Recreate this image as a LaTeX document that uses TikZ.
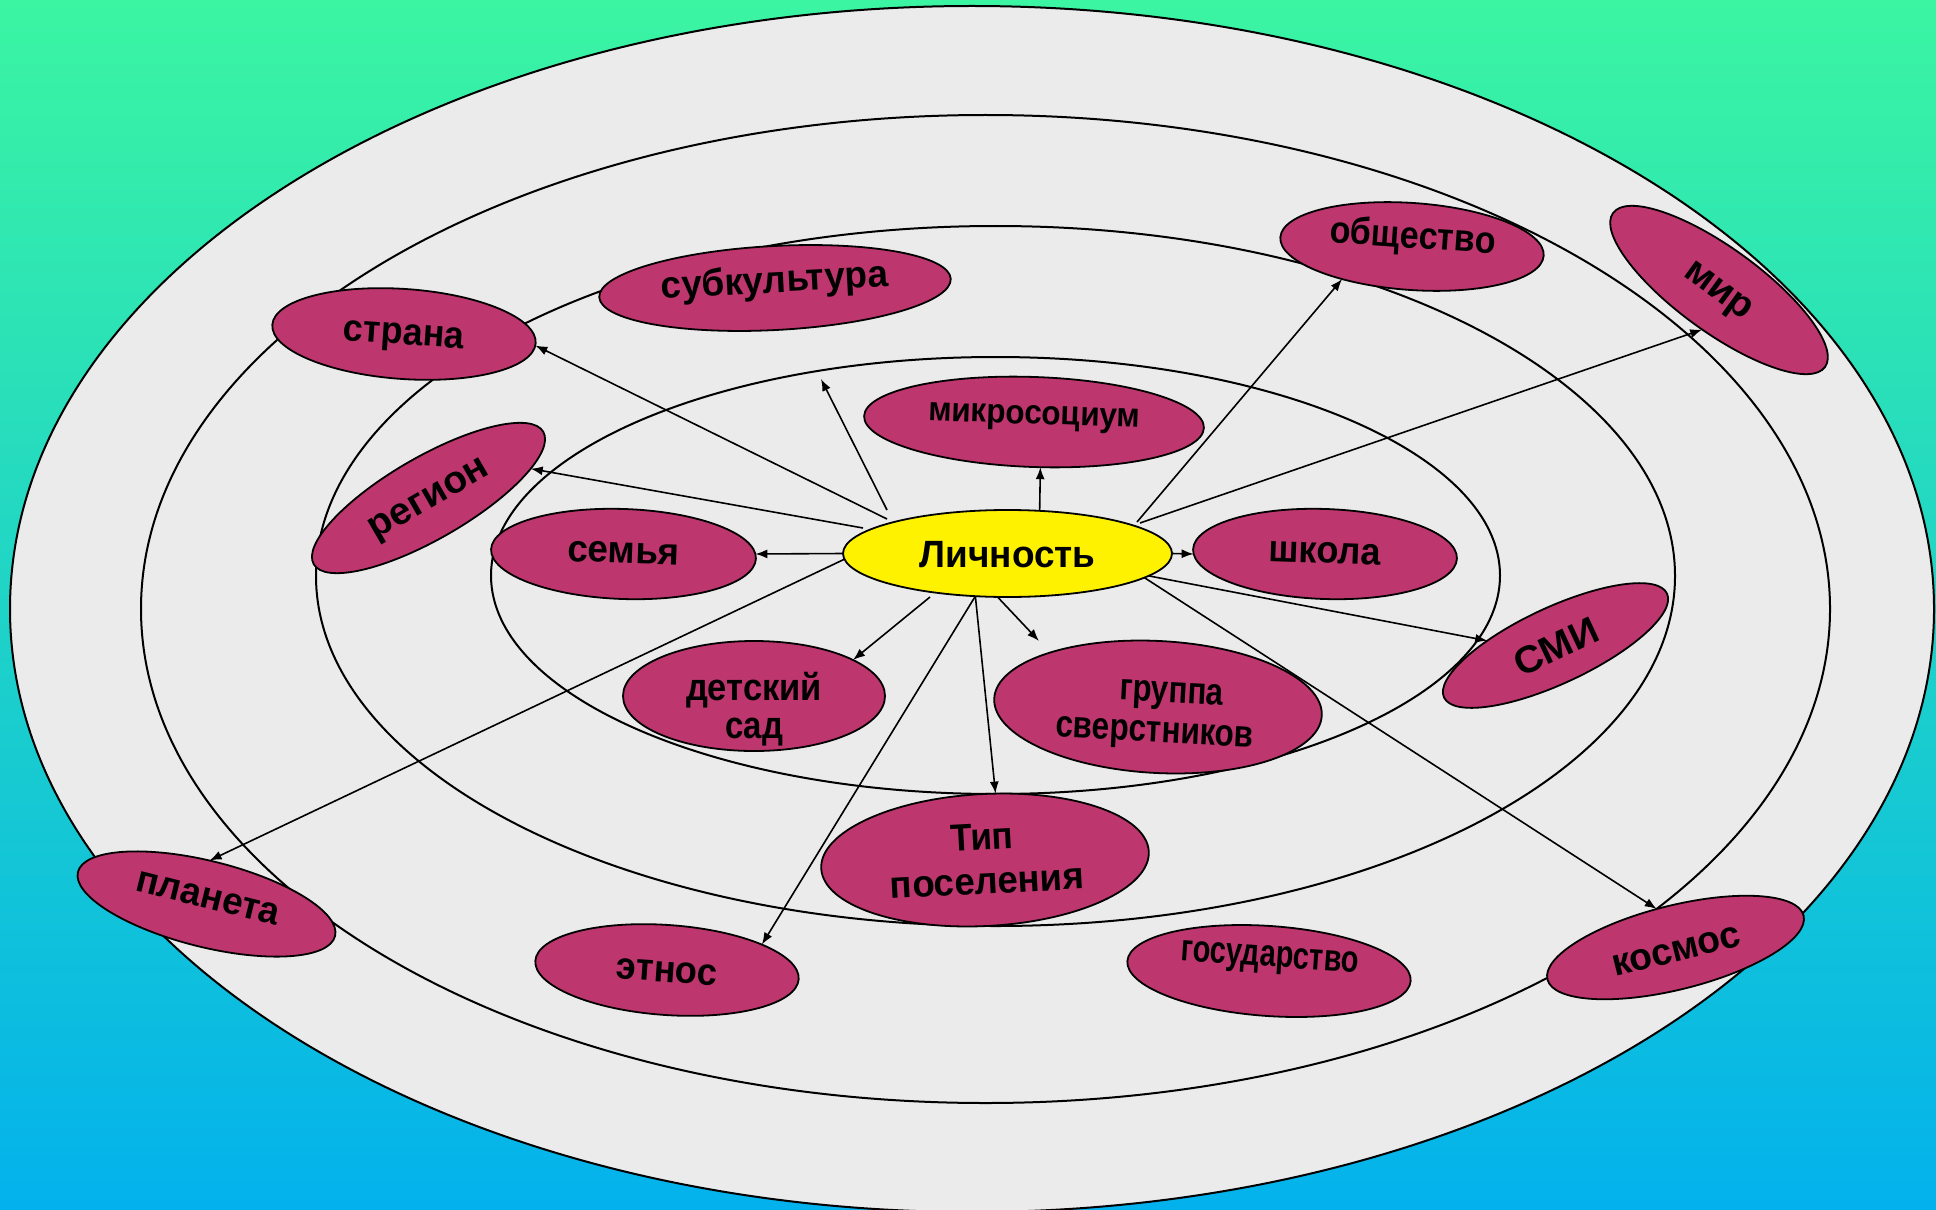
\documentclass[tikz,border=0pt]{standalone}
\usepackage{fontspec}
\setmainfont{Liberation Sans}
\usepackage{graphicx}
\usetikzlibrary{shapes.geometric,arrows.meta}
\definecolor{topc}{RGB}{59,245,162}
\definecolor{botc}{RGB}{3,178,236}
\definecolor{ringfill}{RGB}{235,235,235}
\definecolor{nodec}{RGB}{189,54,110}
\newcommand\mainf{\fontsize{19}{21}\selectfont\bfseries}
% text line: x shift, y shift, width, text
\newcommand\txl[4]{\makebox[0pt]{\hspace*{#1}\raisebox{#2}[0pt][0pt]{\resizebox{#3}{\height}{#4}}\hspace*{-#1}}}
\tikzset{
  pnode/.style={ellipse, draw=black, line width=0.9pt, fill=nodec, inner sep=0pt, outer sep=0pt, font=\mainf, text=black},
  ynode/.style={pnode, fill=yellow},
  arr/.style={-{Latex[length=6pt,width=4.5pt]}, line width=0.8pt, draw=black},
  ring/.style={draw=black, line width=1pt},
}
\begin{document}
\begin{tikzpicture}[x=0.5pt,y=-0.5pt]
\useasboundingbox (0,0) rectangle (1936,1209);
\clip (0,0) rectangle (1936,1209);
\shade[top color=topc, bottom color=botc] (0,0) rectangle (1936,1209);
% rings
\draw[ring, fill=ringfill] (972,609) ellipse [x radius=481pt, y radius=301.5pt];
\draw[ring] (985.5,609) ellipse [x radius=422.25pt, y radius=247pt];
\draw[ring] (995.5,576) ellipse [x radius=339.75pt, y radius=175pt];
\draw[ring] (995.5,575.5) ellipse [x radius=252.25pt, y radius=109.25pt];
% nodes
\node[ynode, minimum width=164.5pt, minimum height=43.5pt] (L) at (1007.5,553.5) {\txl{0pt}{-6.8pt}{88pt}{Личность}};
\node[pnode, minimum width=170pt, minimum height=45pt, rotate=-2] (mikro) at (1034,422) {\txl{0pt}{-1pt}{106pt}{\fontsize{17}{19}\selectfont микросоциум}};
\node[pnode, minimum width=132.5pt, minimum height=45pt, rotate=-2] (semya) at (623.5,554) {\txl{0pt}{-4.5pt}{56pt}{семья}};
\node[pnode, minimum width=132pt, minimum height=45pt, rotate=-2] (shkola) at (1325,554) {\txl{0pt}{-4.5pt}{56pt}{школа}};
\node[pnode, minimum width=131pt, minimum height=55pt] (detsad) at (754,696) {\txl{0pt}{-2pt}{68pt}{детский}\txl{0pt}{-21pt}{29pt}{сад}};
\node[pnode, minimum width=164pt, minimum height=66pt, rotate=-3] (gruppa) at (1158,707) {\txl{6.5pt}{2.5pt}{52pt}{группа}\txl{-1pt}{-17.5pt}{99pt}{сверстников}};
\node[pnode, minimum width=164pt, minimum height=66pt, rotate=3] (tip) at (985,860) {\txl{-1pt}{5pt}{31.5pt}{Тип}\txl{0.5pt}{-17pt}{97pt}{поселения}};
\node[pnode, minimum width=176pt, minimum height=42pt, rotate=3] (subk) at (775,288) {\txl{0pt}{-2.25pt}{113.5pt}{субкультура}};
\node[pnode, minimum width=132pt, minimum height=45pt, rotate=-4] (strana) at (404,334) {\txl{0pt}{-5.25pt}{60.5pt}{страна}};
\node[pnode, minimum width=132.5pt, minimum height=41pt, rotate=30] (region) at (428.5,498) {\txl{0pt}{-5pt}{66.5pt}{регион}};
\node[pnode, minimum width=132pt, minimum height=43.5pt, rotate=-4] (obsh) at (1412,246.5) {\txl{0pt}{-0.75pt}{83pt}{общество}};
\node[pnode, minimum width=131pt, minimum height=42pt, rotate=-36] (mir) at (1719,290) {\txl{0pt}{-5pt}{38.5pt}{мир}};
\node[pnode, minimum width=123pt, minimum height=38pt, rotate=25] (smi) at (1555.5,645.5) {\txl{0pt}{-7pt}{44.5pt}{СМИ}};
\node[pnode, minimum width=132.5pt, minimum height=43pt, rotate=-14] (planeta) at (206.5,904) {\txl{0pt}{-2pt}{73.5pt}{планета}};
\node[pnode, minimum width=132pt, minimum height=42pt, rotate=14] (kosmos) at (1675.5,947.5) {\txl{0pt}{-7pt}{65.5pt}{космос}};
\node[pnode, minimum width=132pt, minimum height=45pt, rotate=-4] (etnos) at (667,970) {\txl{0pt}{-6pt}{50.5pt}{этнос}};
\node[pnode, minimum width=142pt, minimum height=45pt, rotate=-4] (gos) at (1269,971) {\txl{0pt}{2.25pt}{89pt}{государство}};
% free arrow ends
\coordinate (sStr) at (887,519);
\coordinate (sUp) at (887,510);
\coordinate (sReg) at (863,528);
\coordinate (sObs) at (1137,522);
\coordinate (sMir) at (1140,523);
\coordinate (sDet) at (930,597);
\coordinate (eUp) at (821,379);
\coordinate (eGr) at (1039,641);
% arrows
\draw[arr] (sStr) -- (strana.-1.5);
\draw[arr] (sUp) -- (eUp);
\draw[arr] (L.53) -- (mikro.-80.4);
\draw[arr] (sReg) -- (region.-14);
\draw[arr] (L.180) -- (semya.2);
\draw[arr] (L.0) -- (shkola.182);
\draw[arr] (sObs) -- (obsh.-151);
\draw[arr] (sMir) -- (mir.-77.6);
\draw[arr] (L.-9) -- (smi.151.7);
\draw[arr] (L.-10) -- (kosmos.102.3);
\draw[arr] (L.-103) -- (eGr);
\draw[arr] (L.-127) -- (tip.78.5);
\draw[arr] (L.-127) -- (etnos.19.4);
\draw[arr] (sDet) -- (detsad.20.3);
\draw[arr] (L.182) -- (planeta.100.7);
\end{tikzpicture}
\end{document}
